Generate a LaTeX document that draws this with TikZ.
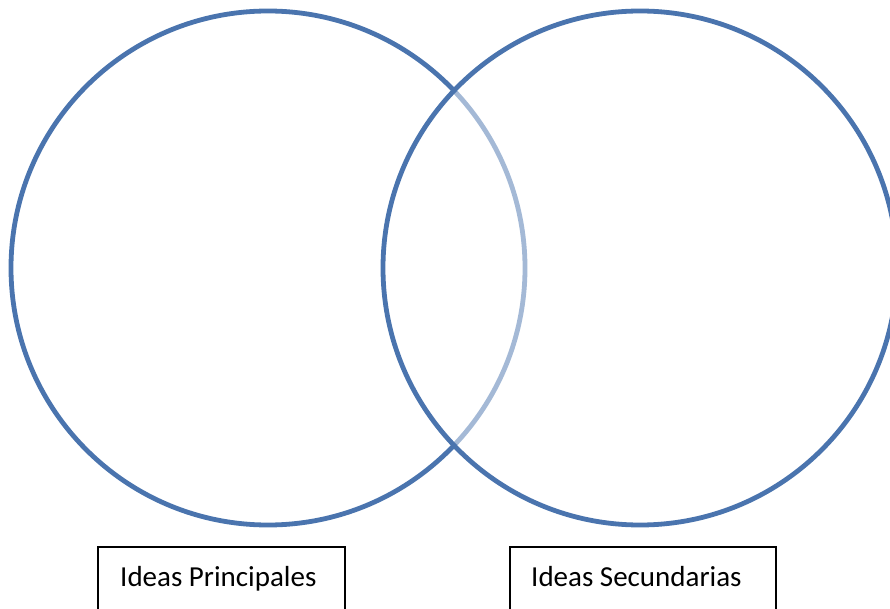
\documentclass[tikz,border=0pt]{standalone}
\usepackage{fontspec}
\setmainfont{Carlito}
\definecolor{vblue}{HTML}{4A74AE}
\tikzset{
  venn/.style={circle, draw=vblue, line width=4.8pt, minimum size=514pt, inner sep=0pt},
  labelbox/.style={draw=black, line width=1.8pt, minimum height=80pt, anchor=north west, inner sep=0pt},
  labeltext/.style={font=\fontsize{29}{34}\selectfont, anchor=base west, inner sep=0pt}
}
\begin{document}
\begin{tikzpicture}[x=1pt,y=-1pt]
\useasboundingbox (0,0) rectangle (890,609);
\clip (0,0) rectangle (890,609);
\node[venn] (L) at (268,268) {};
\node[venn, fill=white, fill opacity=0.5, draw opacity=1] (R) at (640,268) {};
\node[labelbox, minimum width=247pt] (b1) at (97,546) {};
\node[labelbox, minimum width=266pt] (b2) at (509,546) {};
\node[labeltext] (t1) at (120,586) {Ideas Principales};
\node[labeltext] (t2) at (531,586) {Ideas Secundarias};
\end{tikzpicture}
\end{document}
